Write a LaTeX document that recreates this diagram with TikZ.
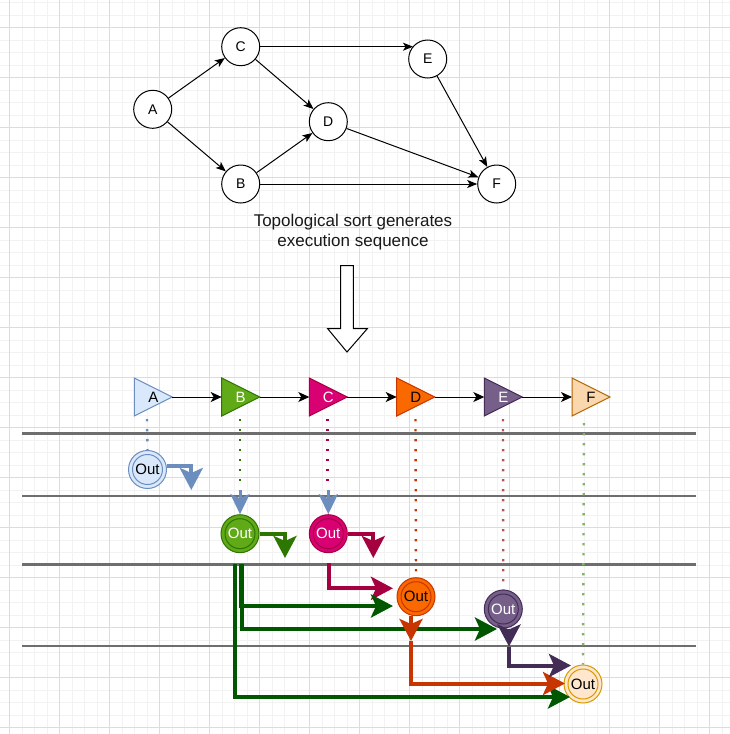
\documentclass[tikz,border=0pt]{standalone}
\usepackage{fontspec}
\setmainfont{Liberation Sans}
\usetikzlibrary{arrows.meta,calc}
\definecolor{blueF}{HTML}{DAE8FC}\definecolor{blueS}{HTML}{6C8EBF}
\definecolor{greenF}{HTML}{60A917}\definecolor{greenS}{HTML}{2D7600}
\definecolor{pinkF}{HTML}{D80073}\definecolor{pinkS}{HTML}{A50040}
\definecolor{orangeF}{HTML}{FA6800}\definecolor{orangeS}{HTML}{C73500}
\definecolor{purpleF}{HTML}{76608A}\definecolor{purpleS}{HTML}{432D57}
\definecolor{peachF}{HTML}{FAD7AC}\definecolor{peachS}{HTML}{B46504}
\definecolor{outFF}{HTML}{FFE6CC}\definecolor{outFS}{HTML}{D79B00}
\definecolor{dkgreen}{HTML}{005700}
\definecolor{fdot}{HTML}{82B366}
\definecolor{edot}{HTML}{B85450}
\definecolor{laneC}{HTML}{6E6E6E}
\definecolor{gridMin}{HTML}{F2F2F2}
\definecolor{gridMaj}{HTML}{DCDCDC}
\newcommand\mytri[6]{%
  \draw[fill=#3, draw=#4, line width=1pt] (#2,378) -- ({#2+38},397) -- (#2,416) -- cycle;
  \node[tlabel, text=#5] (#1) at ({#2+19},397) {#6};
  \coordinate (#1in) at (#2,397);
  \coordinate (#1tip) at ({#2+38},397);
}
\begin{document}
\begin{tikzpicture}[x=1pt,y=-1pt,
  gridminor/.style={draw=gridMin, line width=1pt},
  gridmajor/.style={draw=gridMaj, line width=1pt},
  gnode/.style={circle, draw=black, fill=white, line width=1pt, minimum size=38pt, inner sep=0pt, font=\fontsize{14}{16}\selectfont},
  garrow/.style={line width=1pt, -{Stealth[length=10pt, width=8pt, inset=2.5pt]}},
  sarrow/.style={line width=1pt, -{Stealth[length=11pt, width=10pt, inset=3pt]}},
  tlabel/.style={inner sep=0pt, font=\fontsize{15}{17}\selectfont},
  outc/.style 2 args={circle, minimum size=38pt, inner sep=0pt, fill=#1, draw=#2, line width=1pt,
     font=\fontsize{15}{17}\selectfont,
     path picture={\draw[#2, line width=1pt] (path picture bounding box.center) circle (15pt);}},
  lane/.style={draw=laneC, line width=2.8pt},
  dotline/.style={line width=2.4pt, dash pattern=on 2.4pt off 7.6pt},
  tarrow/.style={line width=4pt, -{Stealth[length=22pt, width=23pt, inset=5pt]}},
  barrow/.style={draw=blueS, line width=3pt, -{Stealth[length=20pt, width=19pt, inset=4pt]}},
]
\useasboundingbox (0,0) rectangle (730,734);
\fill[white] (0,0) rectangle (730,734);
% grid
\foreach \k in {0,...,57} \draw[gridminor] ({9.5+12.5*\k},0) -- ++(0,734);
\foreach \k in {-2,...,56} \draw[gridminor] (0,{27.5+12.5*\k}) -- ++(730,0);
\foreach \k in {0,...,14} \draw[gridmajor] ({9.5+50*\k},0) -- ++(0,734);
\foreach \k in {-1,...,14} \draw[gridmajor] (0,{27.5+50*\k}) -- ++(730,0);

% top graph
\node[gnode] (A) at (152.7,109.3) {A};
\node[gnode] (C) at (240.7,46.7) {C};
\node[gnode] (E) at (427.7,59) {E};
\node[gnode] (D) at (328.3,121.7) {D};
\node[gnode] (B) at (240.7,184) {B};
\node[gnode] (F) at (496.7,184) {F};
\coordinate (ceEnd) at (413,46.7);
\draw[garrow] (A) -- (C);
\draw[garrow] (A) -- (B);
\draw[garrow] (C) -- (ceEnd);
\draw[garrow] (C) -- (D);
\draw[garrow] (B) -- (D);
\draw[garrow] (B) -- (F);
\draw[garrow] (D) -- (F);
\draw[garrow] (E) -- (F);

\node[font=\fontsize{17}{20}\selectfont, align=center, text=black!90, inner sep=0pt] (txt) at (353,232) {Topological sort generates\\execution sequence};

% big hollow arrow
\draw[fill=white, line width=1pt] (340.7,265.7) -- (353.3,265.7) -- (353.3,328.7) -- (367.3,328.7) -- (347,352) -- (327.7,328.7) -- (340.7,328.7) -- cycle;

% lanes
\draw[lane] (22,433.5) -- (696,433.5);
\draw[lane] (22,496) -- (696,496);
\draw[lane] (22,564.5) -- (696,564.5);
\draw[lane] (22,646) -- (696,646);

% triangles
\mytri{tA}{134.3}{blueF}{blueS}{black}{A}
\mytri{tB}{221.7}{greenF}{greenS}{white}{B}
\mytri{tC}{309.3}{pinkF}{pinkS}{white}{C}
\mytri{tD}{396.7}{orangeF}{orangeS}{black}{D}
\mytri{tE}{484.3}{purpleF}{purpleS}{white}{E}
\mytri{tF}{572}{peachF}{peachS}{black}{F}
\draw[sarrow] (tAtip) -- (tBin);
\draw[sarrow] (tBtip) -- (tCin);
\draw[sarrow] (tCtip) -- (tDin);
\draw[sarrow] (tDtip) -- (tEin);
\draw[sarrow] (tEtip) -- (tFin);

% out nodes
\node[outc={blueF}{blueS}, text=black] (oA) at (147.5,469.5) {Out};
\node[outc={greenF}{greenS}, text=white] (oB) at (240,533.7) {Out};
\node[outc={pinkF}{pinkS}, text=white] (oC) at (328.3,533.7) {Out};
\node[outc={orangeF}{orangeS}, text=black] (oD) at (416,596.7) {Out};
\node[outc={purpleF}{purpleS}, text=white] (oE) at (503.3,609) {Out};
\node[outc={outFF}{outFS}, text=black] (oF) at (583,684) {Out};

% dotted
\draw[dotline, draw=blueS] (147,419) -- (oA.north);
\draw[dotline, draw=greenS] (240,419) -- (240,487);
\draw[dotline, draw=pinkS] (327.5,419) -- (327.5,487);
\draw[dotline, draw=orangeS] (415.5,419) -- (oD.north);
\draw[dotline, draw=edot] (503,419) -- (oE.north);
\draw[dotline, draw=fdot] (584,423) -- (oF.north);

% lane arrows
\coordinate (aEnd) at (191.3,490);
\draw[tarrow, draw=blueS] ([yshift=4pt]oA.east) -| (aEnd);
\coordinate (bEnd) at (285,558);
\draw[tarrow, draw=greenS] (oB.east) -| (bEnd);
\coordinate (cEnd) at (373.3,558);
\draw[tarrow, draw=pinkS] (oC.east) -| (cEnd);

\draw[barrow] (240,490) -- (oB.north);
\draw[barrow] (328.3,490) -- (oC.north);

% C -> D
\coordinate (dIn1) at (393,588.3);
\draw[tarrow, draw=pinkS] ($(oC.south)+(1,10)$) |- (dIn1);
% B -> D, E, F
\coordinate (dIn2) at (393,606);
\coordinate (eIn) at (497,629);
\coordinate (fIn3) at (570,697);
\draw[tarrow, draw=dkgreen] ($(oB.south)+(-5,11)$) |- (fIn3);
\draw[tarrow, draw=dkgreen] ($(oB.south)+(0.7,11)$) |- (dIn2);
\draw[tarrow, draw=dkgreen] ($(oB.south)+(2.2,11)$) |- (eIn);
% D -> F
\coordinate (dMid) at (411,641);
\coordinate (fIn2) at (565,683.5);
\draw[tarrow, draw=orangeS] (oD.south -| dMid) -- (dMid);
\draw[tarrow, draw=orangeS] (dMid) |- (fIn2);
% E -> F
\coordinate (eMid) at (509,646.5);
\coordinate (fIn1) at (571,665.5);
\draw[tarrow, draw=purpleS] (oE.south -| eMid) -- (eMid);
\draw[tarrow, draw=purpleS] (eMid) |- (fIn1);
\end{tikzpicture}
\end{document}
